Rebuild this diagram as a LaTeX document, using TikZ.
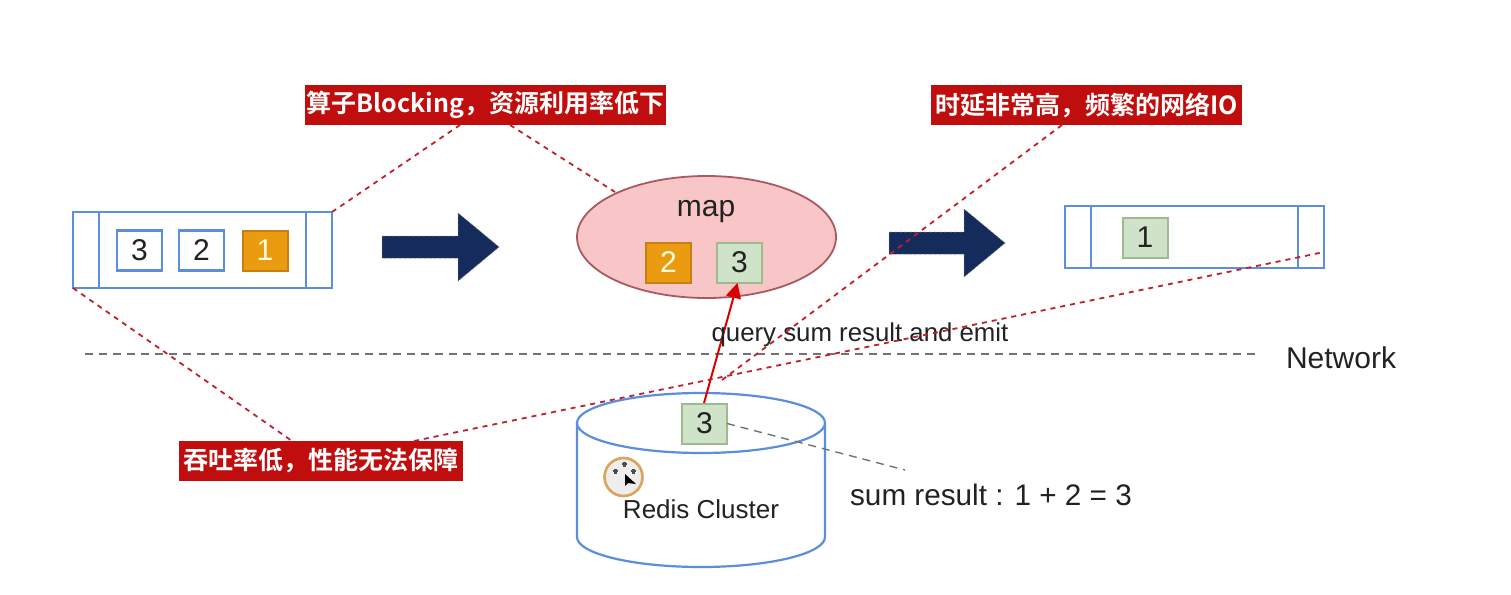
\documentclass[tikz,border=0pt]{standalone}
\usepackage{fontspec}
\setmainfont{Liberation Sans}
\newfontfamily\cjk{Noto Sans CJK SC}[BoldFont={Noto Sans CJK SC Bold}]
\usetikzlibrary{shapes.geometric,arrows.meta}
\definecolor{bluel}{HTML}{5B8FDB}
\definecolor{navy}{HTML}{142B5C}
\definecolor{redb}{HTML}{C00E0E}
\definecolor{dred}{HTML}{C01F2E}
\definecolor{orng}{HTML}{EB9B10}
\definecolor{orngd}{HTML}{C77F14}
\definecolor{greenf}{HTML}{CFE3C8}
\definecolor{greend}{HTML}{9DBB8F}
\definecolor{pinkf}{HTML}{F8C6C6}
\definecolor{pinkd}{HTML}{A85A60}
\definecolor{txt}{HTML}{222222}
\tikzset{
 every node/.style={inner sep=0pt,outer sep=0pt,text=txt},
 bar/.style={draw=bluel,line width=2.2pt,fill=white,minimum height=#1},
 cell/.style={minimum width=45pt,minimum height=40pt,font=\fontsize{30}{30}\selectfont},
 whitecell/.style={cell,draw=bluel,line width=2.4pt,fill=white},
 orangecell/.style={cell,draw=orngd,line width=2pt,fill=orng,text=white!85!yellow},
 greencell/.style={cell,draw=greend,line width=2pt,fill=greenf},
 warn/.style={fill=redb,text=white,font=\cjk\bfseries\fontsize{25}{25}\selectfont,minimum height=40pt},
 lab/.style={font=\fontsize{#1}{#1}\selectfont},
 rdash/.style={draw=dred,line width=1.8pt,dash pattern=on 5pt off 5pt},
 gdash/.style={draw=black!55,line width=1.8pt,dash pattern=on 8pt off 6pt},
 bigarrow/.style={fill=navy,draw=black!55,line width=.5pt,densely dashed},
 blueline/.style={draw=bluel,line width=2.2pt},
}
\begin{document}
\begin{tikzpicture}[x=1pt,y=-1pt]
\useasboundingbox[fill=white] (0,0) rectangle (1511,594);
% left bar
\node[bar=76pt,minimum width=259pt] (lbar) at (202.5,250) {};
\coordinate (lbarNE) at (lbar.north east);
\coordinate (lbarSW) at (lbar.south west);
\draw[blueline] (99,212) -- (99,288) (306,212) -- (306,288);
\node[whitecell] (l3) at (139.5,250.5) {3};
\node[whitecell] (l2) at (201.5,250.5) {2};
\node[orangecell] (l1) at (265,250.5) {1};
% arrows
\path[bigarrow] (382,236) -- (458,236) -- (458,213) -- (499,247) -- (458,281) -- (458,258) -- (382,258) -- cycle;
\path[bigarrow] (889,232) -- (964,232) -- (964,209) -- (1005,243) -- (964,277) -- (964,254) -- (889,254) -- cycle;
% map
\node[ellipse,draw=pinkd,fill=pinkf,line width=1.8pt,minimum width=259pt,minimum height=122pt] (map) at (706.5,237) {};
\node[lab=30] (maptxt) at (706,212) {map};
\node[orangecell] (m2) at (668.5,262.5) {2};
\node[greencell] (m3) at (739.5,262.5) {3};
% right bar
\node[bar=62pt,minimum width=259pt] (rbar) at (1194.5,237) {};
\draw[blueline] (1091,206) -- (1091,268) (1298,206) -- (1298,268);
\node[greencell] (r1) at (1145,237.5) {1};
% network
\coordinate (n1) at (85,354);
\coordinate (n2) at (1255,354);
\draw[gdash] (n1) -- (n2);
\node[lab=30] (net) at (1341,358) {Network};
% cylinder
\draw[blueline,fill=white] (577,423) -- (577,537) arc[start angle=180,end angle=0,x radius=124,y radius=30] -- (825,423);
\draw[blueline,fill=white] (701,423) ellipse[x radius=124,y radius=30];
\node[greencell] (c3) at (704.5,423.5) {3};
\node[lab=26] (redis) at (701,509) {Redis Cluster};
\node[lab=29.7] (sum) at (991,495) {sum result : 1 + 2 = 3};
\coordinate (sumend) at (905,470);
\draw[gdash,line width=1.4pt] (c3.east) -- (sumend);
% cursor
\node[circle,draw=orngd!70!white,line width=2.6pt,fill=black!7,minimum size=38pt] (cur) at (623.5,477) {};
\fill[black] (625,474) -- (625,486) -- (628,483) -- (636,484) -- cycle;
\foreach \a/\b in {624/464,615/471,633/471}{\fill[black!70] (\a-1.5,\b-2.5) rectangle (\a+1.5,\b+2.5);\fill[black!70] (\a-2.5,\b-1) rectangle (\a+2.5,\b+1);}
% query
\coordinate (qs) at (704,403);
\coordinate (qe) at (737.5,283);
\draw[draw=redb,line width=2pt,-{Triangle[length=15pt,width=15pt]},red!85!black] (qs) -- (qe);
\node[lab=25.8] (query) at (860,335) {query sum result and emit};
% warnings
\node[warn,minimum width=361pt] (w1) at (485.5,105) {算子Blocking，资源利用率低下};
\node[warn,minimum width=311pt] (w2) at (1086.5,105) {时延非常高，频繁的网络IO};
\node[warn,minimum width=284pt] (w3) at (321,461) {吞吐率低，性能无法保障};
\coordinate (a1) at (460,125); \coordinate (a2) at (510,125); \coordinate (a3) at (615,192);
\coordinate (b1) at (1062,125); \coordinate (b2) at (722,380);
\coordinate (d1) at (292,441); \coordinate (d2) at (414,441); \coordinate (d3) at (1324,252);
\draw[rdash] (lbarNE) -- (a1);
\draw[rdash] (a2) -- (a3);
\draw[rdash] (b1) -- (b2);
\draw[rdash] (lbarSW) -- (d1);
\draw[rdash] (d2) -- (d3);
\end{tikzpicture}
\end{document}
